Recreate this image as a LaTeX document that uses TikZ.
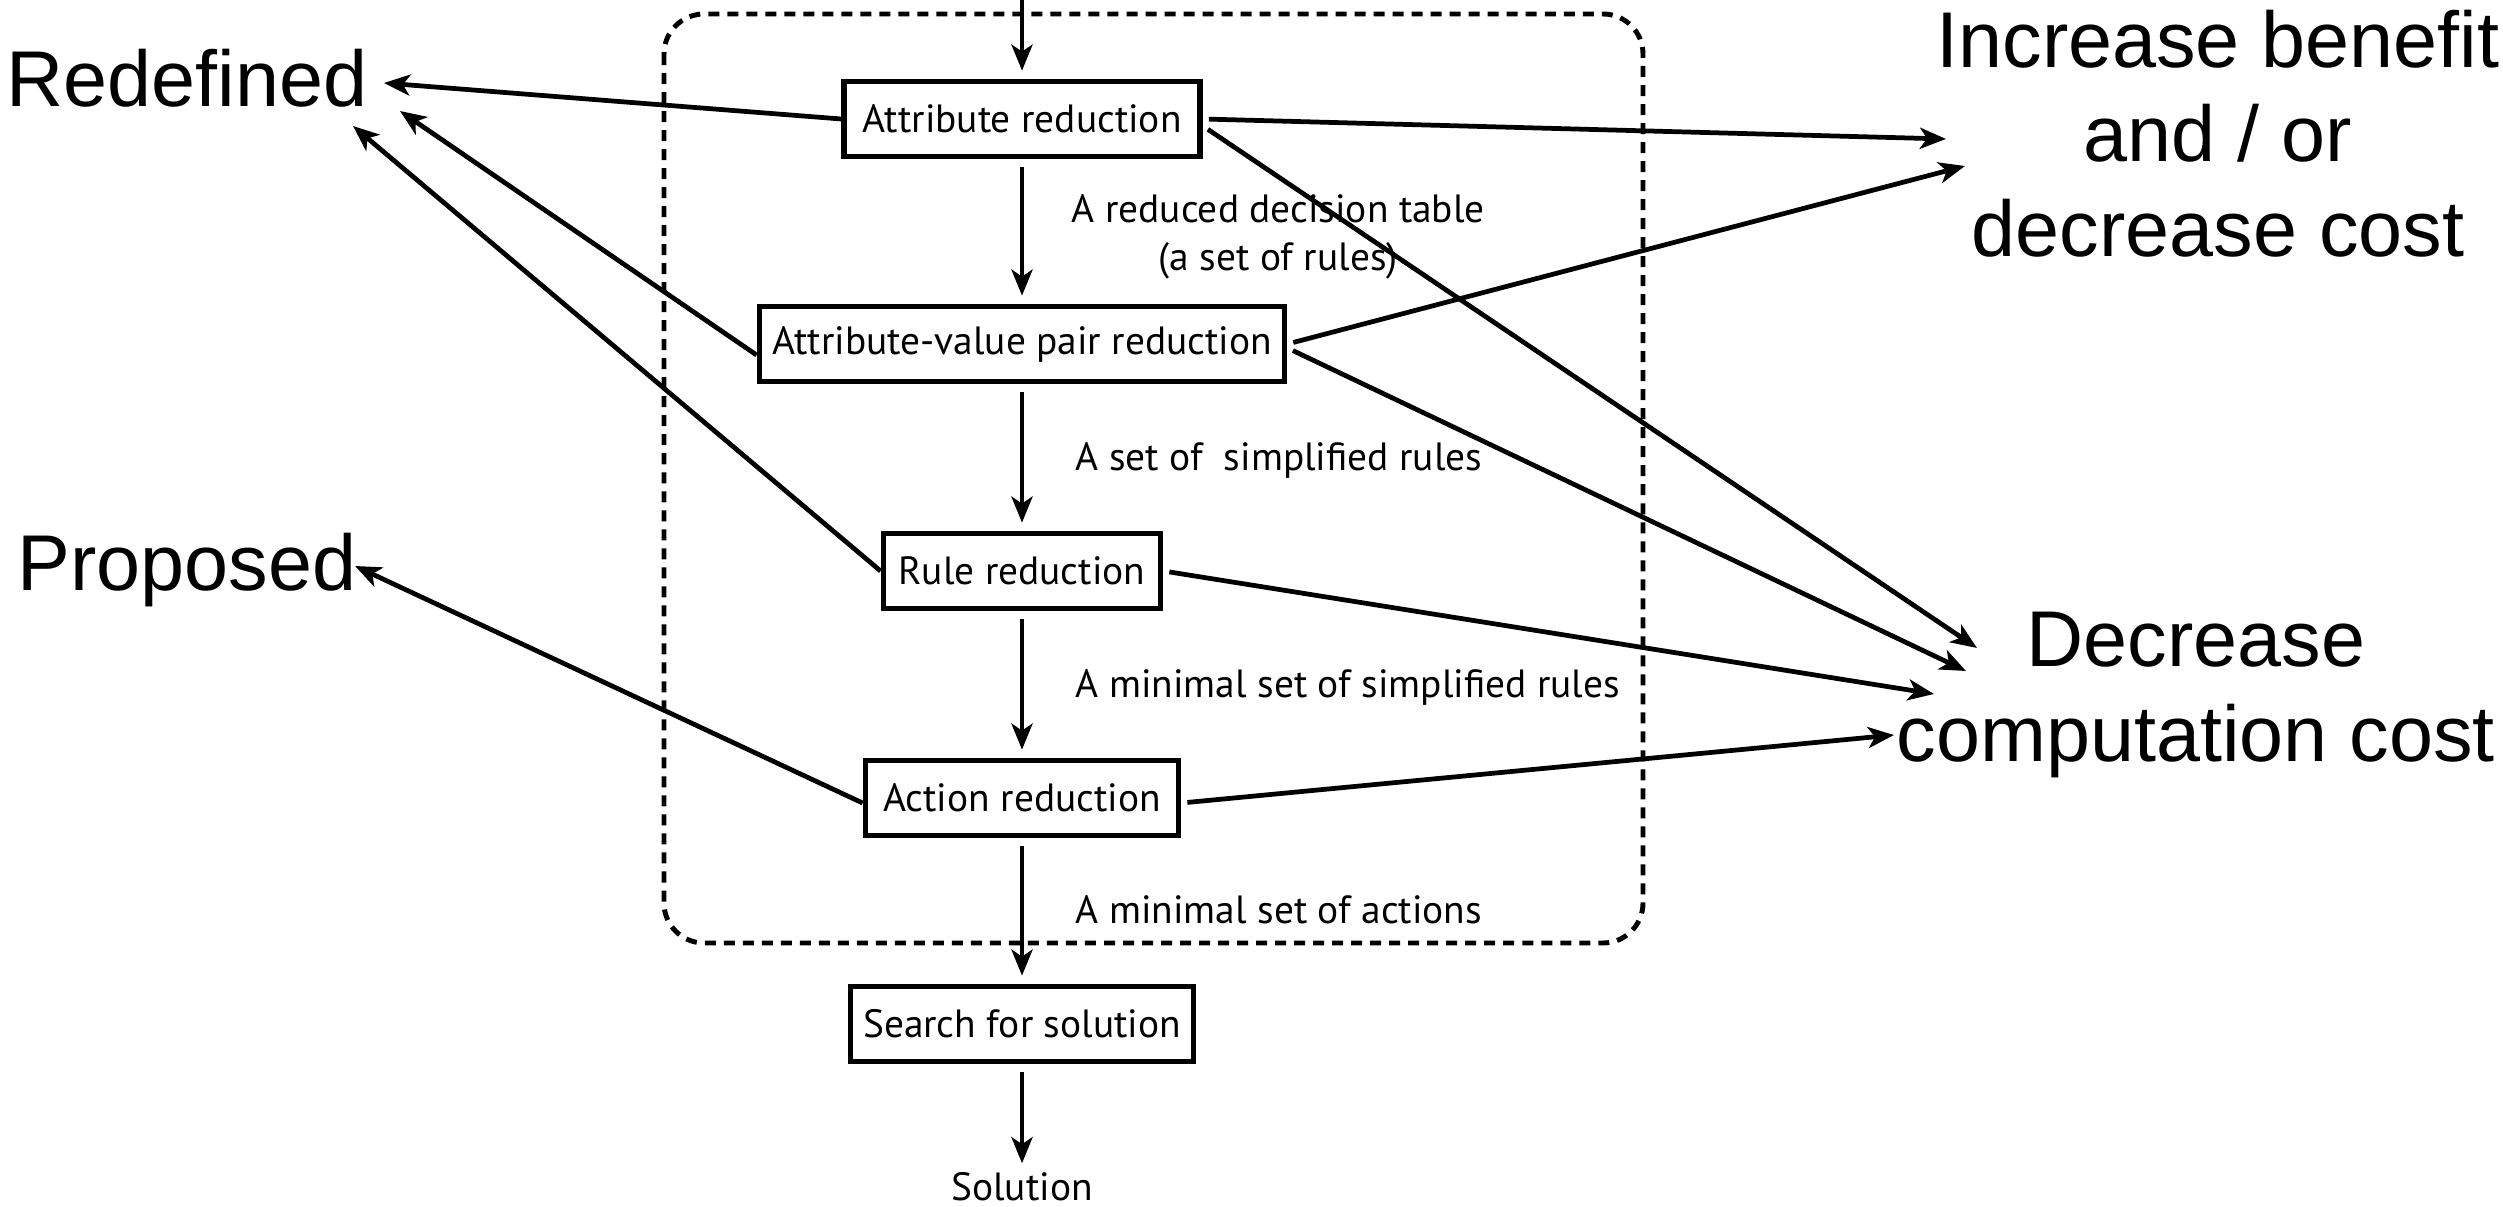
\documentclass[tikz,border=0pt]{standalone}
\usepackage{fontspec}
\setmainfont{PT Sans}
\newfontfamily\helvfont{Liberation Sans}
\usetikzlibrary{arrows.meta}

\tikzset{
  stepbox/.style={draw, line width=1.6pt, minimum height=0.75cm, inner sep=0pt, font=\fontsize{11.2}{13.5}\selectfont},
  flowlabel/.style={inner sep=0pt, font=\fontsize{11.2}{13.5}\selectfont},
  biglabel/.style={inner sep=0pt, font=\helvfont\fontsize{22.5}{27}\selectfont},
  flowarrow/.style={-{Stealth[length=0.26cm,width=0.21cm,inset=0.07cm]}, line width=1.35pt, shorten >=0.08cm, shorten <=0.08cm},
  sidearrow/.style={-{Stealth[length=0.26cm,width=0.21cm,inset=0.07cm]}, line width=1.35pt, shorten <=0.06cm},
  groupframe/.style={line width=1.4pt, dash pattern=on 0.11cm off 0.08cm, rounded corners=0.4cm}
}

\begin{document}
\begin{tikzpicture}[x=0.01cm,y=-0.01cm]
  \useasboundingbox (0,0) rectangle (2503,1207);

  % Frame
  \draw[groupframe] (664,14) rectangle (1643,943);

  % Nodes
  \coordinate (input) at (1022,0);
  \node[stepbox, minimum width=3.56cm] (attr) at (1022,119) {Attribute reduction};
  \node[stepbox, minimum width=5.25cm] (avp) at (1022,344) {Attribute-value pair reduction};
  \node[stepbox, minimum width=2.77cm] (rule) at (1022,571) {Rule reduction};
  \node[stepbox, minimum width=3.13cm] (action) at (1022,798) {Action reduction};
  \node[stepbox, minimum width=3.43cm] (search) at (1022,1024) {Search for solution};
  \node[flowlabel, anchor=base] (solution) at (1022,1200) {Solution};

  \node[flowlabel, align=center, anchor=north west] (lbltable) at (1071,194) {A reduced decision table\\(a set of rules)};
  \node[flowlabel, anchor=base west] (lblsimple) at (1075,471) {A set of~ simplified rules};
  \node[flowlabel, anchor=base west] (lblminimal) at (1075,698) {A minimal set of simplified rules};
  \node[flowlabel, anchor=base west] (lblactions) at (1075,923) {A minimal set of actions};

  \node[biglabel, anchor=base west] (redefined) at (6,107) {Redefined};
  \node[biglabel, anchor=base west] (proposed) at (17,591) {Proposed};
  \node[biglabel, align=center, anchor=north] (benefit) at (2218,9) {Increase benefit\\and / or\\decrease cost};
  \node[biglabel, align=center, anchor=north] (compcost) at (2196,611) {Decrease\\computation cost};

  % Arrow ends
  \coordinate (redefA) at (384,83);
  \coordinate (redefB) at (400,111);
  \coordinate (redefC) at (353,126);
  \coordinate (propA) at (355,566);
  \coordinate (benefitA) at (1946,139);
  \coordinate (benefitB) at (1965,166);
  \coordinate (compA) at (1977,648);
  \coordinate (compB) at (1966,671);
  \coordinate (compC) at (1934,694);
  \coordinate (compD) at (1894,735);

  % Edges
  \draw[flowarrow, shorten <=0pt] (input) -- (attr);
  \draw[flowarrow] (attr) -- (avp);
  \draw[flowarrow] (avp) -- (rule);
  \draw[flowarrow] (rule) -- (action);
  \draw[flowarrow] (action) -- (search);
  \draw[flowarrow] (search) -- (solution);

  \draw[sidearrow, shorten <=0pt] (attr.west) -- (redefA);
  \draw[sidearrow, shorten <=0pt] ([yshift=-0.11cm]avp.west) -- (redefB);
  \draw[sidearrow, shorten <=0pt] (rule.west) -- (redefC);
  \draw[sidearrow, shorten <=0pt] ([yshift=-0.05cm]action.west) -- (propA);

  \draw[sidearrow] (attr.east) -- (benefitA);
  \draw[sidearrow] (avp.east) -- (benefitB);
  \draw[sidearrow] ([yshift=-0.07cm]attr.east) -- (compA);
  \draw[sidearrow] ([yshift=-0.04cm]avp.east) -- (compB);
  \draw[sidearrow] (rule.east) -- (compC);
  \draw[sidearrow] ([yshift=-0.05cm]action.east) -- (compD);
\end{tikzpicture}
\end{document}
